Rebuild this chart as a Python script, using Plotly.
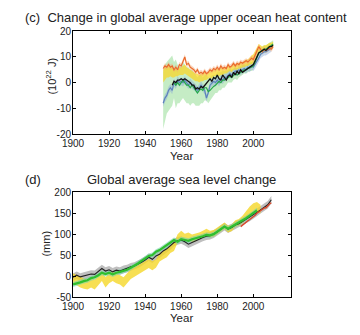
import plotly.graph_objects as go

# ---------------- (c) upper ocean heat content, 10^22 J ----------------
ohc_years = list(range(1950, 2012))

ohc_orange = [5.5, 6.5, 6, 7, 6, 6.5, 5, 6, 5, 7, 6.5, 8, 10, 7, 7.5, 6, 5.5, 5, 4, 5,
              3.5, 4, 3.5, 4.5, 3.5, 4, 5, 4.5, 5.5, 5, 6, 5, 6.5, 5.5, 6, 5.5, 7, 6, 6.5, 7.5,
              6.5, 7.5, 7, 8, 7.5, 8, 8.5, 8, 9, 9.5, 9, 10.5, 12, 14, 13, 12, 13, 12.5, 13, 13.5,
              13, 14]

ohc_blue = [-8, -6, -5, -3, -2, -3, 0, -1, 1, 0, 0.5, 0, 1, 0, -1, 0, -1, -1.5, -2, -3,
            -2, -1, -2, -3, -6, -4, -1, 0, 0.5, 0, 1, 0, 1.5, 1, 2, 2, 3, 3.5, 3, 4,
            4.5, 4, 5, 4.5, 5, 5.5, 5, 6, 5.5, 6.5, 6, 7, 8, 9.5, 11, 11.5, 12, 12, 12.5, 13,
            13.5, None]

ohc_black = [None, None, None, None, None, -1, 0.5, 0, 1, 1, 1.5, 1, 1.5, 1, 0.5, 0, -1, -1, -2.5, -2,
             -2.5, -1.5, -2, -1, -0.5, 1, 1.5, 0.5, 2, 1.5, 3, 1.5, 1, 3, 2, 1, 2.5, 3, 2, 4,
             3, 4.5, 3.5, 5, 4, 4.5, 5, 5.5, 6, 6.5, 7, 8.5, 10, 11.5, 12, 12.5, 13, 12.5, 13.5, 14,
             14, 14.5]

ohc_green = [None, None, None, None, None, None, 0, -1, 0, -1, 0, 1, 0, -1, -1, -2, -1, -2, -3, -4,
             -3, -2.5, -3, -2, -2, -3.5, -3, -2, -1.5, -1, 0, 0.5, 0, 1, 1, 1.5, 2, 2.5, 2, 3,
             3.5, 3, 3.5, 4, 4.5, 5, 5, 5.5, 6, 6, 6.5, 8, 10, 11.5, 12, 12.5, 13, 13, 13.5, 14,
             14.5, 15]

ohc_green_lo = [-18, -15, -12, -11, -10, -9, -6, -10, -8, -8, -7, -6, -7, -8, -8, -9, -8, -8, -9, -9,
                -9, -8, -8, -7, -7, -8, -7, -6, -5, -4, -4, -3, -3, -2, -2, -1, 0, 0, 0, 1,
                1.5, 1, 2, 2.5, 3, 3.5, 3.5, 4, 4.5, 4.5, 5, 6.5, 8.5, 10, 10.5, 11, 11.5, 11.5, 12, 12.5,
                13, 13.5]

ohc_green_hi = [4, 7, 8, 9, 10, 10.5, 8, 9, 7, 6, 7, 8, 7, 6, 6, 5, 5, 4, 3, 2,
                3, 3, 2, 3, 3, 2, 2, 3, 3, 3, 4, 4, 4, 4.5, 4.5, 4.5, 5, 5.5, 5, 5.5,
                6, 5.5, 6, 6.5, 7, 7, 7, 7.5, 8, 8, 8.5, 9.5, 11.5, 13, 13.5, 14, 14.5, 14.5, 15, 15.5,
                16, 16.5]

ohc_yellow_lo = [0, 1, 2, 2, 2.5, 2, 2, 2.5, 2.5, 3, 3, 3, 3.5, 3, 2.5, 2, 1.5, 1, 0.5, 0.5,
                 0, 0.5, 0.5, 1, 1, 1.5, 2, 1.5, 2.5, 2.5, 3, 2.5, 3, 3, 3.5, 3.5, 4, 4.5, 4, 5,
                 5, 5, 5.5, 5.5, 6, 6, 6.5, 6.5, 7, 7, 7.5, 9, 11, 12, 12, 12, 12.5, 12.5, 13, 13,
                 13.5, 14]

ohc_yellow_hi = [5, 6, 6, 6.5, 6, 6, 5, 5.5, 5, 6, 6, 6.5, 7, 6, 5.5, 5, 4.5, 4, 3.5, 3.5,
                 3, 3.5, 3.5, 4, 3.5, 4, 4.5, 4.5, 5, 5, 5.5, 5, 6, 5.5, 6, 6, 6.5, 6.5, 6.5, 7.5,
                 7, 7.5, 7.5, 8, 8, 8.5, 9, 9, 10, 10.5, 11, 12.5, 14, 15, 14.5, 14, 14.5, 14.5, 15, 15.5,
                 15.5, 16]

# ---------------- (d) global mean sea level, mm ----------------
gmsl_years = list(range(1900, 2012, 2))

gmsl_black = [-3, 2, -2, 0, 2, 5, 4, 10, 18, 12, 15, 10, 14, 12, 16, 18, 22, 24, 28, 33,
              38, 45, 40, 48, 52, 60, 65, 72, 80, 84, 86, 82, 76, 80, 85, 88, 92, 95, 96, 100,
              105, 112, 118, 112, 116, 122, 125, 130, 135, 140, 145, 152, 158, 163, 170, 182]

gmsl_green = [-20, -18, -15, -12, -10, -5, -3, 2, 8, 5, 8, 4, 8, 10, 12, 15, 20, 24, 30, 36,
              42, 48, 50, 58, 62, 68, 72, 80, 86, 82, 88, 86, 84, 88, 90, 93, 95, 98, 97, 100,
              106, 112, 118, 113, 118, 122, 126, 132, 138, 144, 150, 157, None, None, None, None]

gmsl_yellow_mid = [-5, -10, -15, -18, -20, -15, -20, -10, 0, -15, -5, 0, -5, -8, -15, -5, 5, 10, 15, 20,
                   25, 30, 25, 30, 45, 50, 55, 65, 70, 90, 98, 92, 95, 90, 92, 95, 100, 105, 100, 102,
                   108, 115, 120, 112, 115, 125, 128, 135, 145, 155, 162, 165, 160, None, None, None]

gmsl_yellow_err = [12, 12, 12, 12, 12, 12, 12, 12, 12, 12, 12, 12, 12, 12, 12, 12, 12, 12, 11, 11,
                   11, 11, 11, 10, 10, 10, 10, 10, 10, 10, 10, 9, 9, 9, 9, 9, 8, 8, 8, 8,
                   8, 8, 8, 8, 8, 8, 8, 9, 10, 11, 12, 12, 10, None, None, None]

gmsl_red_years = list(range(1993, 2011))
gmsl_red = [118, 122, 125, 128, 132, 135, 138, 142, 145, 150, 153, 156, 160, 162, 163, 168, 172, 175]

# ---------------- tick labels ----------------
year_ticks = [1900, 1920, 1940, 1960, 1980, 2000]
ohc_ticks = [-20, -10, 0, 10, 20]
ohc_ticklabels = ["-20", "-10", "0", "10", "20"]
gmsl_ticks = [-50, 0, 50, 100, 150, 200]
gmsl_ticklabels = ["-50", "0", "50", "100", "150", "200"]

FONT = "Liberation Sans, Arial, sans-serif"
TEXT = "#222222"


def band(x, lo, hi, color, xa, ya):
    """Filled area between two curves (None gaps are dropped)."""
    pts = [(xx, l, h) for xx, l, h in zip(x, lo, hi) if l is not None and h is not None]
    xs = [p[0] for p in pts]
    return go.Scatter(x=xs + xs[::-1], y=[p[2] for p in pts] + [p[1] for p in pts][::-1],
                      fill="toself", fillcolor=color, line=dict(width=0), mode="lines",
                      hoverinfo="skip", showlegend=False, xaxis=xa, yaxis=ya)


def line(x, y, color, width, xa, ya):
    return go.Scatter(x=x, y=y, mode="lines", line=dict(color=color, width=width),
                      showlegend=False, connectgaps=False, xaxis=xa, yaxis=ya)


def shift(vals, d):
    return [v + d if v is not None else None for v in vals]


fig = go.Figure()

# heat content panel
fig.add_trace(band(ohc_years, ohc_green_lo, ohc_green_hi, "rgba(150,220,150,0.55)", "x", "y"))
fig.add_trace(band(ohc_years, shift(ohc_blue, -1.5), shift(ohc_blue, 1.5),
                   "rgba(140,170,215,0.45)", "x", "y"))
fig.add_trace(band(ohc_years, ohc_yellow_lo, ohc_yellow_hi, "rgba(248,215,40,0.75)", "x", "y"))
fig.add_trace(band(ohc_years, shift(ohc_orange, -1), shift(ohc_orange, 1),
                   "rgba(245,170,120,0.45)", "x", "y"))
fig.add_trace(line(ohc_years, ohc_blue, "#5d82bd", 1.2, "x", "y"))
fig.add_trace(line(ohc_years, ohc_orange, "#ea6a2c", 1.2, "x", "y"))
fig.add_trace(line(ohc_years, ohc_green, "#25a84a", 1.2, "x", "y"))
fig.add_trace(line(ohc_years, ohc_black, "#111111", 1.3, "x", "y"))

# sea level panel
fig.add_trace(band(gmsl_years, shift(gmsl_black, -9), shift(gmsl_black, 9),
                   "rgba(170,170,170,0.75)", "x2", "y2"))
fig.add_trace(band(gmsl_years,
                   [m - e if m is not None else None for m, e in zip(gmsl_yellow_mid, gmsl_yellow_err)],
                   [m + e if m is not None else None for m, e in zip(gmsl_yellow_mid, gmsl_yellow_err)],
                   "rgba(245,215,40,0.8)", "x2", "y2"))
fig.add_trace(band(gmsl_years, shift(gmsl_green, -6), shift(gmsl_green, 6),
                   "rgba(120,210,170,0.6)", "x2", "y2"))
fig.add_trace(line(gmsl_years, gmsl_black, "#222222", 1.1, "x2", "y2"))
fig.add_trace(line(gmsl_red_years, gmsl_red, "#d9472a", 1.4, "x2", "y2"))
fig.add_trace(line(gmsl_years, gmsl_green, "#2fbf2f", 2.2, "x2", "y2"))

W, H = 360, 335
axis_common = dict(showline=True, linecolor="black", linewidth=1, mirror="ticks",
                   ticks="inside", ticklen=3, tickcolor="black", showgrid=False,
                   zeroline=False, tickfont=dict(family=FONT, size=10, color=TEXT))
x_common = dict(axis_common, domain=[64 / W, 289 / W], range=[1900, 2021],
                tickvals=year_ticks, ticklabelstandoff=0)
y_common = dict(axis_common, ticklabelstandoff=-1)


def label(text, x_px, y_px, size=11, angle=0, anchor="center"):
    return dict(text=text, x=x_px / W, y=(H - y_px) / H, xref="paper", yref="paper",
                xanchor=anchor, yanchor="middle", showarrow=False, textangle=angle,
                font=dict(family=FONT, size=size, color=TEXT))


fig.update_layout(
    width=W, height=H, margin=dict(l=0, r=0, t=0, b=0),
    paper_bgcolor="white", plot_bgcolor="white", showlegend=False,
    xaxis=dict(x_common, anchor="y"),
    yaxis=dict(y_common, domain=[(H - 133) / H, (H - 27) / H], range=[-20, 20],
               tickvals=ohc_ticks, ticktext=ohc_ticklabels, anchor="x"),
    xaxis2=dict(x_common, anchor="y2"),
    yaxis2=dict(y_common, domain=[(H - 301) / H, (H - 193) / H], range=[-50, 200],
                tickvals=gmsl_ticks, ticktext=gmsl_ticklabels, anchor="x2"),
    annotations=[
        label("(c)  Change in global average upper ocean heat content", 12, 13, size=13, anchor="left"),
        label("(d)", 12, 180, size=13, anchor="left"),
        label("Global average sea level change", 176, 180, size=13),
        label("Year", 176, 156, size=11.5),
        label("Year", 176, 323, size=11.5),
        label("(10<sup>22</sup> J)", 41, 73, angle=-90),
        label("(mm)", 36, 246, angle=-90),
    ],
)

fig.write_html("out.html")
